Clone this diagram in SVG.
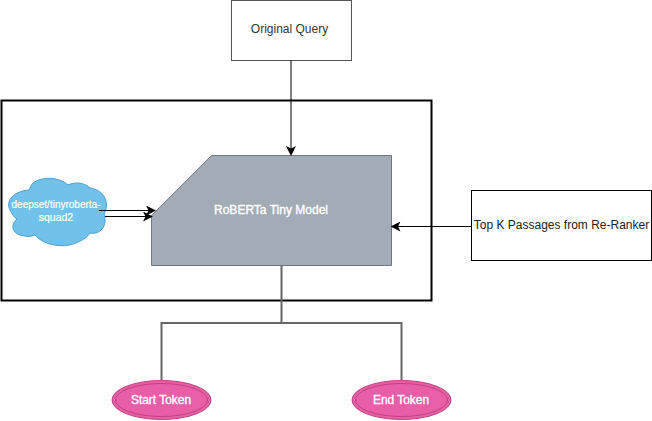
<svg xmlns="http://www.w3.org/2000/svg" width="652" height="421" viewBox="0 0 652 421">
<style>
text{font-family:"Liberation Sans",Arial,sans-serif;font-size:12px;text-anchor:middle}
.w{fill:#fff;stroke:#fff;stroke-width:0.35;font-size:12px}
.w2{fill:#fff;font-size:10.5px;stroke:#fff;stroke-width:0.2}
.c{fill:none;stroke:#000;stroke-width:1}
.g{fill:none;stroke:#666;stroke-width:2}
.oval{fill:#e85fa8;stroke:#c2407f}
</style>
<defs>
<marker id="a" viewBox="0 0 10 10" refX="8" refY="5" markerWidth="10" markerHeight="10" markerUnits="userSpaceOnUse" orient="auto"><path d="M0 0L10 5L0 10L2.500 5Z" fill="#000"/></marker>
</defs>
<g id="container"><rect x="1.500" y="100.500" width="430" height="200" fill="#fff" stroke="#000" stroke-width="2"/></g>
<g id="model"><path d="M151.500 265.500V215.500L211.500 155.500H391.500V265.500Z" fill="#a2acb7" stroke="#6f7882"/><text class="w" x="271" y="214" textLength="114" lengthAdjust="spacingAndGlyphs">RoBERTa Tiny Model</text></g>
<g id="query"><rect x="231.500" y="0.500" width="120" height="60" fill="#fff" stroke="#555"/><text x="289.500" y="33" fill="#333">Original Query</text></g>
<g id="passages"><rect x="471.500" y="190.500" width="180" height="70" fill="#fff" stroke="#000"/><text x="561.500" y="229" fill="#222">Top K Passages from Re-Ranker</text></g>
<g id="cloud"><path d="M29 190C14 191 5 201 10 210C13 216 15 218 17 219C9 226 13 235 25 236C29 237 33 236 35 235C43 245 65 250 80 241C85 239 88 236 90 233C100 235 108 226 104 214C110 204 105 190 90 188C84 182 74 182 68 185C60 177 42 176 33 183C31 185 30 188 29 190Z" fill="#70c2ed" stroke="#4d9fd0"/><text class="w2" x="56" y="208" textLength="89" lengthAdjust="spacingAndGlyphs">deepset/tinyroberta-</text><text class="w2" x="56" y="221">squad2</text></g>
<g id="start"><ellipse class="oval" cx="161.500" cy="400" rx="49.500" ry="19.500"/><ellipse class="oval" cx="161.500" cy="400" rx="46" ry="16.500"/><text class="w" x="161" y="404" textLength="60" lengthAdjust="spacingAndGlyphs">Start Token</text></g>
<g id="end"><ellipse class="oval" cx="401.500" cy="400" rx="49.500" ry="19.500"/><ellipse class="oval" cx="401.500" cy="400" rx="46" ry="16.500"/><text class="w" x="401" y="404" textLength="56" lengthAdjust="spacingAndGlyphs">End Token</text></g>
<g id="connectors">
<path class="c" d="M291 60.500V154" marker-end="url(#a)"/>
<path class="c" d="M471.500 226.500H392.500" marker-end="url(#a)"/>
<path class="c" d="M99 210.500H154" marker-end="url(#a)"/>
<path class="c" d="M105 216.500H151" marker-end="url(#a)"/>
<path class="g" d="M281.500 265.500V323M161.500 380V323H401.500V380"/>
</g>
</svg>
